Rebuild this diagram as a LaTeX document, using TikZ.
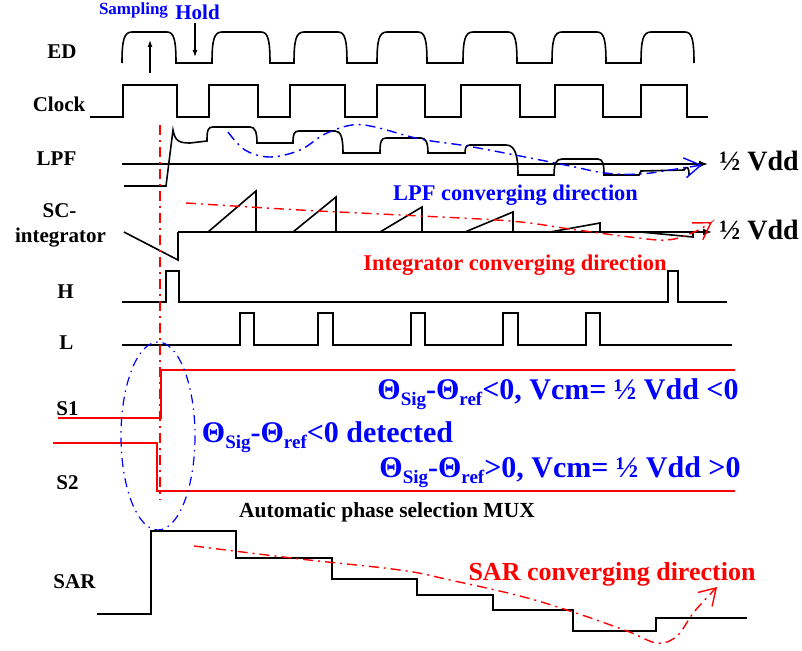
\documentclass[tikz,border=0pt]{standalone}
\usepackage{fontspec}
\setmainfont{Liberation Serif}
\usetikzlibrary{arrows.meta}
\newcommand\sbs[1]{\raisebox{-6pt}{\fontsize{19}{19}\selectfont #1}}
\begin{document}
\begin{tikzpicture}[x=1pt,y=-1pt,
  wave/.style={line width=1.6pt, line join=miter},
  redwave/.style={red, line width=1.6pt},
  lbl/.style={font=\fontsize{21}{21}\selectfont\bfseries, inner sep=0pt, anchor=base},
  bigt/.style={font=\fontsize{28}{28}\selectfont\bfseries, inner sep=0pt, anchor=base},
  bluet/.style={font=\fontsize{30}{30}\selectfont\bfseries, text=blue, inner sep=0pt, anchor=base},
  dashdot/.style={dash pattern=on 10pt off 5pt on 2pt off 5pt},
  barb/.style={-{Straight Barb[length=16pt,width=20pt,line width=1.4pt]}},
  conv/.style={line width=1.4pt, dashdot, barb}
]
\useasboundingbox (0,0) rectangle (802,650);

% ---------- labels ----------
\node[lbl] (ed) at (62,59) {ED};
\node[lbl] (clk) at (59,112) {Clock};
\node[lbl] (lpf) at (56.5,165) {LPF};
\node[lbl] (sc) at (59.5,217) {SC-};
\node[lbl] (intg) at (60.5,242) {integrator};
\node[lbl] (hl) at (65.5,298) {H};
\node[lbl] (ll) at (66.5,349) {L};
\node[lbl] (s1) at (67.5,415) {S1};
\node[lbl] (s2) at (67.5,489) {S2};
\node[lbl] (sar) at (74.5,588) {SAR};

\node[inner sep=0pt, anchor=base, text=blue, font=\fontsize{17}{17}\selectfont\bfseries] (samp) at (133.5,15) {Sampling};
\node[inner sep=0pt, anchor=base, text=blue, font=\fontsize{21}{21}\selectfont\bfseries] (hold) at (197.5,20) {Hold};

% ---------- ED ----------
\draw[wave] (122,63)
  .. controls (122,40) and (124,32) .. (132,32) -- (167,32) .. controls (174,32) and (176,40) .. (176,63) -- (212,63)
  .. controls (212,40) and (214,32) .. (222,32) -- (261,32) .. controls (268,32) and (270,40) .. (270,63) -- (294,63)
  .. controls (294,40) and (296,32) .. (304,32) -- (338,32) .. controls (345,32) and (347,40) .. (347,63) -- (377,63)
  .. controls (377,40) and (379,32) .. (387,32) -- (418,32) .. controls (425,32) and (427,40) .. (427,63) -- (463,63)
  .. controls (463,40) and (465,32) .. (473,32) -- (508,32) .. controls (515,32) and (517,40) .. (517,63) -- (552,63)
  .. controls (552,40) and (554,32) .. (562,32) -- (597,32) .. controls (604,32) and (606,40) .. (606,63) -- (641,63)
  .. controls (641,40) and (643,32) .. (651,32) -- (685,32) .. controls (692,32) and (694,40) .. (694,63);
\coordinate (sa1) at (150,73); \coordinate (sa2) at (150,40);
\coordinate (ho1) at (195,23); \coordinate (ho2) at (195,57);
\draw[line width=1.2pt,-{Latex[length=7pt,width=5pt]}] (sa1) -- (sa2);
\draw[line width=1.2pt,-{Latex[length=7pt,width=5pt]}] (ho1) -- (ho2);

% ---------- Clock ----------
\draw[wave] (90,117) -- (123,117) -- (123,85) -- (177,85) -- (177,117) -- (209,117) -- (209,85) -- (258,85) -- (258,117)
 -- (290,117) -- (290,85) -- (345,85) -- (345,117) -- (377,117) -- (377,85) -- (425,85) -- (425,117) -- (461,117)
 -- (461,85) -- (520,85) -- (520,117) -- (555,117) -- (555,85) -- (603,85) -- (603,117) -- (641,117) -- (641,85)
 -- (687,85) -- (687,117) -- (708,117);

% ---------- LPF ----------
\coordinate (lb0) at (122,164); \coordinate (lb1) at (708,164);
\draw[wave,-{Latex[length=9pt,width=7pt]}] (lb0) -- (lb1);
\draw[wave] (124,186) -- (166,186) -- (173,130) .. controls (175,141) and (179,143) .. (190,143) -- (207,141)
  .. controls (207,130) and (208,127) .. (213,127) -- (250,127) .. controls (255,127) and (257,132) .. (257,143)
  -- (293,143) .. controls (293,134) and (294,131) .. (299,131) -- (335,131) .. controls (341,131) and (343,138) .. (343,153)
  -- (380,153) .. controls (380,142) and (381,138) .. (386,138) -- (421,138) .. controls (426,138) and (428,143) .. (428,153)
  -- (465,153) .. controls (465,148) and (466,145) .. (470,145) -- (506,145) .. controls (515,145) and (518,155) .. (518,175)
  -- (554,175) .. controls (554,164) and (556,159) .. (562,159) -- (598,159) .. controls (603,159) and (604,165) .. (604,175)
  -- (639,175) -- (641,171) -- (684,170) .. controls (687,165) and (689,167) .. (689,175);
\draw[blue,conv] plot[smooth,tension=0.6] coordinates {(228,132) (245,150) (270,157) (300,150) (325,134) (352,125) (375,127) (420,139) (467,146) (520,156) (570,166) (605,173) (640,174) (670,170) (702,165)};
\node[bigt] (vdd1) at (759,170) {½ Vdd};
\node[inner sep=0pt, anchor=base, text=blue, font=\fontsize{22.4}{22.4}\selectfont\bfseries] (lpfc) at (515.5,200) {LPF converging direction};

% ---------- SC integrator ----------
\coordinate (ib0) at (178,232); \coordinate (ib1) at (712,232);
\draw[wave,-{Latex[length=9pt,width=7pt]}] (ib0) -- (ib1);
\draw[wave] (124,232) -- (178,260) -- (178,232);
\draw[wave] (208,232) -- (256,191) -- (256,232);
\draw[wave] (293,232) -- (336,197) -- (336,232);
\draw[wave] (380,232) -- (422,207) -- (422,232);
\draw[wave] (465,232) -- (513,212) -- (513,232);
\draw[wave] (550,232) -- (600,223) -- (600,232);
\draw[wave] (640,232) -- (693,237) -- (693,232);
\draw[red,conv] plot[smooth,tension=0.6] coordinates {(186,203) (300,210) (400,215) (510,221) (570,229) (630,237) (667,240) (692,233) (712,222)};
\node[bigt] (vdd2) at (759,239) {½ Vdd};
\node[inner sep=0pt, anchor=base, text=red, font=\fontsize{22.5}{22.5}\selectfont\bfseries] (intc) at (515,270) {Integrator converging direction};

% ---------- H and L ----------
\draw[wave] (122,302) -- (166,302) -- (166,271) -- (179,271) -- (179,302) -- (668,302) -- (668,271) -- (678,271) -- (678,302) -- (727,302);
\draw[wave] (122,345) -- (240,345) -- (240,313) -- (254,313) -- (254,345) -- (318,345) -- (318,313) -- (333,313) -- (333,345)
 -- (411,345) -- (411,313) -- (425,313) -- (425,345) -- (503,345) -- (503,313) -- (518,313) -- (518,345)
 -- (586,345) -- (586,313) -- (600,313) -- (600,345) -- (732,345);

% ---------- red vertical marker ----------
\coordinate (rv0) at (160,125); \coordinate (rv1) at (160,500);
\draw[red, line width=1.4pt, dashdot] (rv0) -- (rv1);

% ---------- S1 / S2 ----------
\draw[redwave] (58,418) -- (161,418) -- (161,370) -- (735,370);
\draw[redwave] (53,443) -- (157,443) -- (157,491) -- (735,491);
\draw[blue, line width=1.2pt, dash pattern=on 9pt off 5pt on 1.5pt off 5pt] (158,436) ellipse [x radius=37, y radius=94];

\node[bluet] (t1) at (558,399) {Θ\sbs{Sig}-Θ\sbs{ref}<0, Vcm= ½ Vdd <0};
\node[bluet] (t2) at (327.5,442) {Θ\sbs{Sig}-Θ\sbs{ref}<0 detected};
\node[bluet] (t3) at (560,477) {Θ\sbs{Sig}-Θ\sbs{ref}>0, Vcm= ½ Vdd >0};
\node[inner sep=0pt, anchor=base, font=\fontsize{21.5}{21.5}\selectfont\bfseries] (mux) at (387,517) {Automatic phase selection MUX};

% ---------- SAR ----------
\draw[wave] (97,614) -- (151,614) -- (151,531) -- (236,531) -- (236,558) -- (332,558) -- (332,579) -- (417,579) -- (417,595)
 -- (493,595) -- (493,610) -- (573,610) -- (573,631) -- (656,631) -- (656,618) -- (747,618);
\draw[red,conv] plot[smooth,tension=0.6] coordinates {(194,546) (300,559) (400,570) (450,580) (520,596) (573,612) (627,631) (657,643) (677,636) (694,612) (717,587)};
\node[inner sep=0pt, anchor=base, text=red, font=\fontsize{26}{26}\selectfont\bfseries] (sarc) at (612,580) {SAR converging direction};
\end{tikzpicture}
\end{document}
